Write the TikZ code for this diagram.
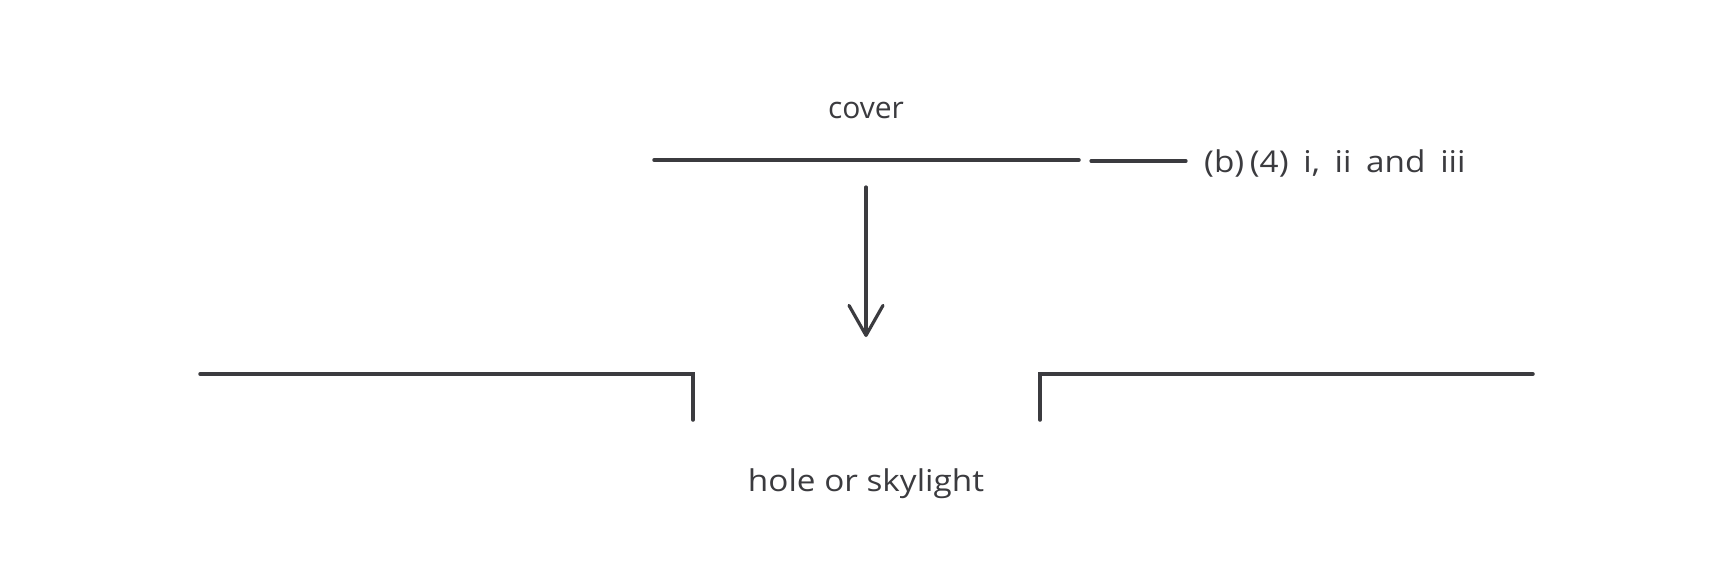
\documentclass[tikz,border=0pt]{standalone}
\usepackage{fontspec}
\setmainfont{Open Sans}
\newfontfamily\reffont[WordSpace=1.7]{Open Sans}
\usetikzlibrary{arrows.meta}
\definecolor{ink}{HTML}{3B3B3F}
\newcommand{\widetext}[1]{\scalebox{1.11}[1]{#1}}
\begin{document}
\begin{tikzpicture}[x=1pt,y=-1pt,
  stroke/.style={draw=ink,line width=3.5pt,line cap=round,line join=miter},
  thin/.style={draw=ink,line width=3.2pt,line cap=round},
  lbl/.style={text=ink,font=\fontsize{30}{35}\selectfont,inner sep=0pt}]
\useasboundingbox[fill=white] (0,0) rectangle (1733,560);
% cover
\coordinate (cA) at (654,160);
\coordinate (cB) at (1079,160);
\draw[stroke] (cA) -- (cB);
\node[lbl] (cover) at (866,110) {cover};
% leader and reference text
\coordinate (lA) at (1091,161);
\coordinate (lB) at (1186,161);
\draw[thin] (lA) -- (lB);
\node[lbl,anchor=west,font=\reffont\fontsize{30}{35}\selectfont] (ref) at (1204,163) {\widetext{(b)\,(4) i, ii and iii}};
% arrow
\coordinate (aS) at (866,187);
\coordinate (aE) at (866,337);
\draw[thin,-{Straight Barb[length=30pt,width=34pt,line width=3.2pt,round]}] (aS) -- (aE);
% left ledge
\coordinate (L1) at (200,374);
\coordinate (L2) at (693,374);
\coordinate (L3) at (693,420);
\draw[stroke] (L1) -- (L2) -- (L3);
% right ledge
\coordinate (R1) at (1040,420);
\coordinate (R2) at (1040,374);
\coordinate (R3) at (1533,374);
\draw[stroke] (R1) -- (R2) -- (R3);
\node[lbl] (hole) at (866,484) {\widetext{hole or skylight}};
\end{tikzpicture}
\end{document}
